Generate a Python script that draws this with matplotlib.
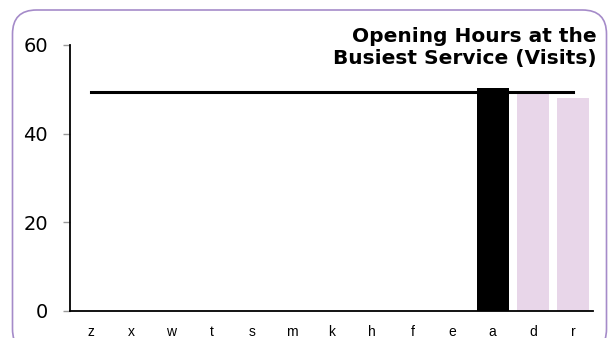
import matplotlib
matplotlib.use("Agg")
import matplotlib.pyplot as plt
from matplotlib.patches import FancyBboxPatch

# data
categories = ["z", "x", "w", "t", "s", "m", "k", "h", "f", "e", "a", "d", "r"]
visits = [0, 0, 0, 0, 0, 0, 0, 0, 0, 0, 50.3, 49.7, 48.1]
highlight = "a"
reference_level = 49.3
title = "Opening Hours at the\nBusiest Service (Visits)"

bar_colors = ["#000000" if c == highlight else "#e8d6e9" for c in categories]

fig = plt.figure(figsize=(6.09, 3.38), dpi=100)
ax = fig.add_axes([0.115, 0.080, 0.859, 0.787])

# rounded frame around the whole chart (inches)
frame = FancyBboxPatch((0.125, -0.15), 5.94, 3.43,
                       boxstyle="round,pad=0,rounding_size=0.24",
                       transform=fig.dpi_scale_trans, facecolor="none",
                       edgecolor="#a58bc9", linewidth=1.2, zorder=0)
fig.patches.append(frame)

x = range(len(categories))
ax.bar(x, visits, width=0.8, color=bar_colors, zorder=2)
ax.plot([0, len(categories) - 1], [reference_level, reference_level],
        color="black", linewidth=2.2, zorder=3)

ax.set_xlim(-0.52, len(categories) - 0.5)
ax.set_ylim(0, 60)
ax.set_yticks([0, 20, 40, 60])
ax.set_xticks(list(x))
ax.set_xticklabels(categories, fontsize=10, family="Liberation Sans")
ax.tick_params(axis="x", length=0, pad=10)
ax.tick_params(axis="y", length=5, color="#999999", width=1, pad=11,
               labelsize=14)

for side in ("top", "right"):
    ax.spines[side].set_visible(False)
for side in ("left", "bottom"):
    ax.spines[side].set_linewidth(1.3)

fig.text(597 / 609, 1 - 47.5 / 338, title, ha="right", va="center",
         fontsize=14.5, fontweight="bold", linespacing=1.15)

fig.savefig("out.png", dpi=100)
